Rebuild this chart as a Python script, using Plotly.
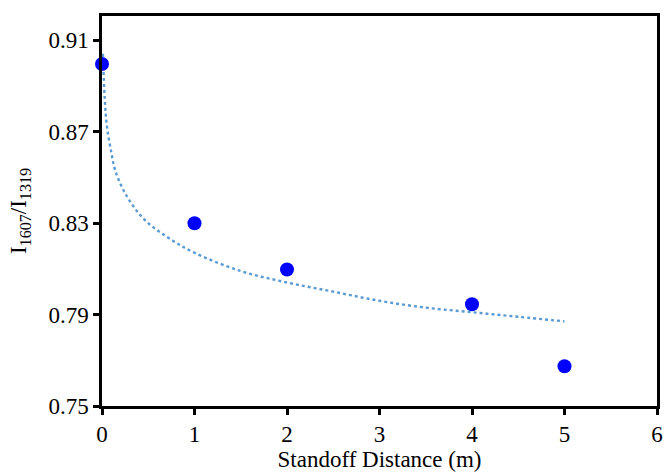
import plotly.graph_objects as go

# measured points
distance_m = [0, 1, 2, 4, 5]
intensity_ratio = [0.8995, 0.8299, 0.8097, 0.7945, 0.7674]

# dotted trend curve
trend_x = [0.01, 0.03, 0.054, 0.1, 0.143, 0.25, 0.446, 0.7, 1.0, 1.5, 2.0, 2.5, 3.0, 3.5, 4.0, 4.5, 5.0]
trend_y = [0.904, 0.884, 0.872, 0.861, 0.853, 0.843, 0.832, 0.824, 0.817, 0.809, 0.804, 0.800,
           0.796, 0.793, 0.791, 0.789, 0.787]

x_ticks = [0, 1, 2, 3, 4, 5, 6]
x_tick_labels = ["0", "1", "2", "3", "4", "5", "6"]
y_ticks = [0.75, 0.79, 0.83, 0.87, 0.91]
y_tick_labels = ["0.75", "0.79", "0.83", "0.87", "0.91"]

fig = go.Figure()
fig.add_trace(go.Scatter(
    x=trend_x, y=trend_y, mode="lines", line_shape="spline",
    line=dict(color="#5B9BD5", width=2.4, dash="dot"),
    showlegend=False, hoverinfo="skip"))
fig.add_trace(go.Scatter(
    x=distance_m, y=intensity_ratio, mode="markers",
    marker=dict(color="#0000FF", size=14),
    showlegend=False, cliponaxis=False))

font_family = "Liberation Serif"
tick_font = dict(family=font_family, size=23, color="black")
axis_common = dict(
    showline=True, linecolor="black", linewidth=2.5, mirror=True,
    ticks="outside", ticklen=6, tickwidth=2.5, tickcolor="black",
    showgrid=False, zeroline=False,
)
fig.update_layout(
    width=670, height=476,
    margin=dict(l=102, r=7, t=16, b=70),
    font=dict(family=font_family, size=23, color="black"),
    paper_bgcolor="white", plot_bgcolor="white",
    xaxis=dict(range=[0, 6], tickmode="array", tickvals=x_ticks, ticktext=x_tick_labels,
               tickfont=tick_font,
               title=dict(text="Standoff Distance (m)", standoff=0,
                          font=dict(family=font_family, size=23, color="black")),
               **axis_common),
    yaxis=dict(range=[0.75, 0.9205], tickmode="array", tickvals=y_ticks, ticktext=y_tick_labels,
               tickfont=tick_font,
               title=dict(text="I<sub>1607</sub>/I<sub>1319</sub>", standoff=16,
                          font=dict(family=font_family, size=23, color="black")),
               **axis_common),
)
fig.write_html("out.html")
